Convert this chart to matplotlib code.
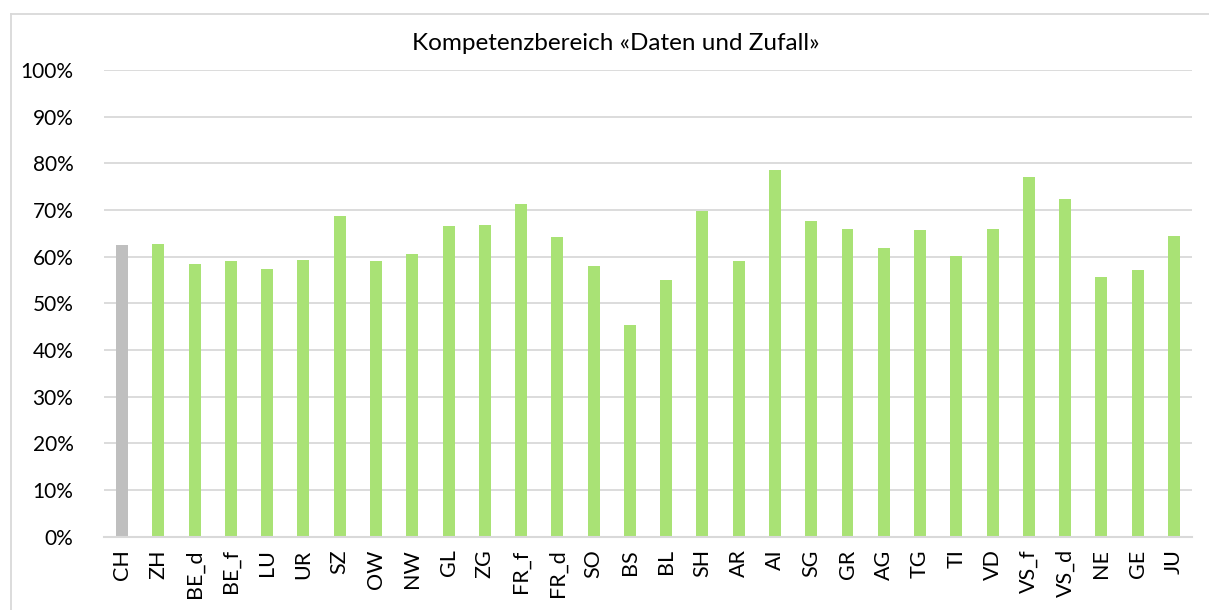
import numpy as np
import matplotlib.pyplot as plt
from matplotlib.lines import Line2D

# -----------------------------
# Data
# -----------------------------
cantons = ["CH", "ZH", "BE_d", "BE_f", "LU", "UR", "SZ", "OW", "NW", "GL",
           "ZG", "FR_f", "FR_d", "SO", "BS", "BL", "SH", "AR", "AI", "SG",
           "GR", "AG", "TG", "TI", "VD", "VS_f", "VS_d", "NE", "GE", "JU"]
shares = [62.5, 62.7, 58.5, 59.1, 57.4, 59.4, 68.7, 59.1, 60.5, 66.7,
          66.8, 71.3, 64.2, 58.1, 45.4, 55.1, 69.9, 59.1, 78.5, 67.6,
          65.9, 61.9, 65.8, 60.1, 65.9, 77.2, 72.4, 55.6, 57.1, 64.5]
title = "Kompetenzbereich «Daten und Zufall»"

GREEN = "#A9E275"
GREY = "#BFBFBF"
GRID = "#D9D9D9"

plt.rcParams["font.family"] = ["Lato", "DejaVu Sans"]

fig = plt.figure(figsize=(12.09, 6.10), dpi=100)
ax = fig.add_axes([0.086, 0.12, 0.900, 0.765])

x = np.arange(len(cantons))
colors = [GREY if c == "CH" else GREEN for c in cantons]
ax.bar(x, np.array(shares) / 100.0, width=0.33, color=colors, zorder=3)

ax.set_xlim(-0.5, len(cantons) - 0.5)
ax.set_ylim(0, 1.0)
ax.set_yticks(np.arange(0, 1.01, 0.1))
ax.set_yticklabels([f"{int(round(v * 100))}%" for v in np.arange(0, 1.01, 0.1)],
                   fontsize=15)
ax.set_xticks(x)
ax.set_xticklabels(cantons, rotation=90, fontsize=15.5)
ax.tick_params(axis="both", length=0, colors="black")
ax.tick_params(axis="y", pad=22)
ax.tick_params(axis="x", pad=9)

ax.grid(axis="y", color=GRID, linewidth=1.3, zorder=0)
for s in ["top", "right", "left"]:
    ax.spines[s].set_visible(False)
ax.spines["bottom"].set_color(GRID)
ax.spines["bottom"].set_linewidth(1.5)
ax.spines["bottom"].set_zorder(4)

fig.text(0.509, 0.928, title, ha="center", va="center", fontsize=17.5)

# chart border (top and left edges visible in the crop)
fig.add_artist(Line2D([11 / 1209, 1.0], [1 - 14 / 610, 1 - 14 / 610],
                      transform=fig.transFigure, color=GRID, linewidth=1.3))
fig.add_artist(Line2D([11 / 1209, 11 / 1209], [0.0, 1 - 14 / 610],
                      transform=fig.transFigure, color=GRID, linewidth=1.3))

fig.savefig("out.png", dpi=100)
